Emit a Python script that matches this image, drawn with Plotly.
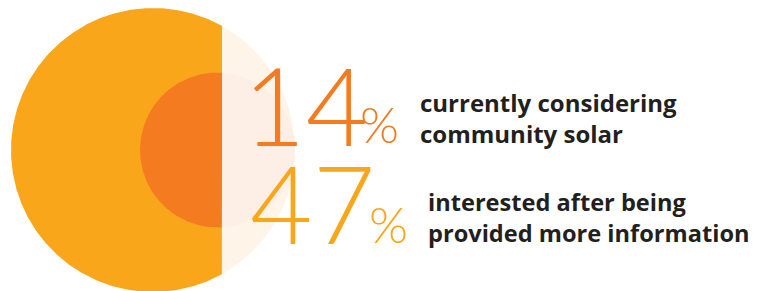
import numpy as np
import plotly.graph_objects as go

# ---- data ----
percent_values = [14, 47]
percent_labels = ["14", "47"]
line1 = ["currently considering", "interested after being"]
line2 = ["community solar", "provided more information"]

ORANGE = "#F9A61B"
DARK = "#F47B20"
CREAM = "#FEF4E8"
CREAM2 = "#FDEFE5"
TEXT = "#231F20"

W, H = 772, 291
OFF = 8  # page body margin compensation
R_BIG = 142.0
CX_BIG, CY = 153.0, 150.0
R_IN = R_BIG * np.sqrt(percent_values[0] / percent_values[1])
CX_IN = 140 + R_IN
SPLIT = 222.0

fig = go.Figure()

def part(cx, r, side, color):
    t = np.linspace(0, 2 * np.pi, 721)
    x = cx + r * np.cos(t)
    y = CY + r * np.sin(t)
    x = np.minimum(x, SPLIT) if side == "left" else np.maximum(x, SPLIT)
    fig.add_trace(go.Scatter(x=x, y=y, mode="lines", fill="toself",
                             fillcolor=color, line=dict(width=0),
                             hoverinfo="skip", showlegend=False))

part(CX_BIG, R_BIG, "right", CREAM)
part(CX_BIG, R_BIG, "left", ORANGE)
part(CX_IN, R_IN, "right", CREAM2)
part(CX_IN, R_IN, "left", DARK)

num_colors = [DARK, ORANGE]
num_pos = [(241, 104), (248, 202)]
pct_pos = [(379, 124), (388, 224)]
txt_pos = [(418, 118), (426, 217)]
txt_sizes = [24, 23.6]

for i in range(2):
    fig.add_annotation(x=num_pos[i][0], y=num_pos[i][1], text=percent_labels[i],
                       xanchor="left", yanchor="middle", showarrow=False,
                       font=dict(family="Lato", size=108, color=num_colors[i], weight=300))
    fig.add_annotation(x=pct_pos[i][0], y=pct_pos[i][1], text="%",
                       xanchor="center", yanchor="middle", showarrow=False,
                       font=dict(family="Lato", size=50, color=num_colors[i], weight=300))
    fig.add_annotation(x=txt_pos[i][0], y=txt_pos[i][1],
                       text=line1[i] + "<br>" + line2[i], align="left",
                       xanchor="left", yanchor="middle", showarrow=False,
                       font=dict(family="Open Sans", size=txt_sizes[i], color=TEXT, weight=700))

fig.update_layout(
    width=W, height=H, margin=dict(l=0, r=0, t=0, b=0),
    paper_bgcolor="white", plot_bgcolor="white",
    xaxis=dict(range=[OFF, W + OFF], visible=False, fixedrange=True),
    yaxis=dict(range=[H + OFF, OFF], visible=False, fixedrange=True),
)
fig.write_html("out.html")
